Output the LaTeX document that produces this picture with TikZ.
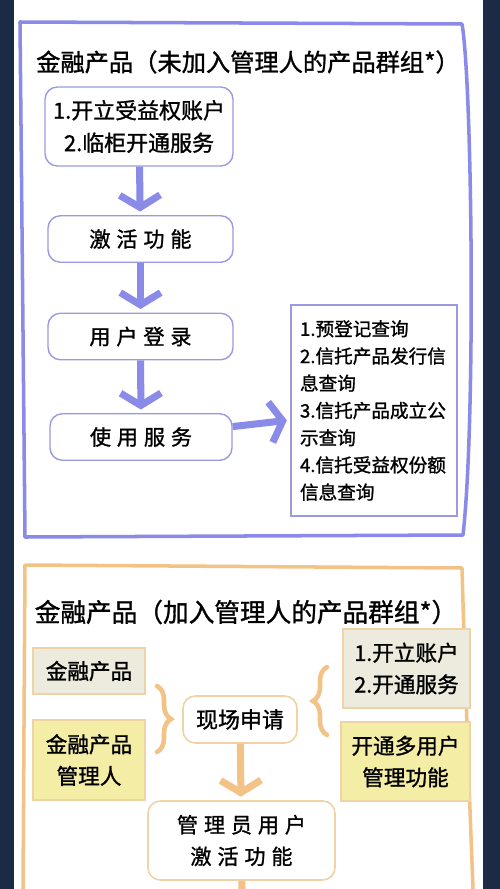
\documentclass[tikz,border=0pt]{standalone}
\usepackage{fontspec}
\setmainfont{Noto Sans CJK SC}[FakeBold=1.2]
\newfontfamily\widefont[LetterSpace=28,FakeBold=1.2]{Noto Sans CJK SC}
\usepackage{xcolor}
\usetikzlibrary{arrows.meta}
\usetikzlibrary{decorations.pathreplacing}
\definecolor{navy}{HTML}{1C2B45}
\definecolor{bline}{HTML}{8A8AE8}
\definecolor{bedge}{HTML}{9A9AE2}
\definecolor{oline}{HTML}{F2C286}
\definecolor{oedge}{HTML}{EFD2A6}
\definecolor{grayfill}{HTML}{ECEBDD}
\definecolor{yellowfill}{HTML}{F4EDA6}

\begin{document}
\begin{tikzpicture}[x=0.02cm,y=-0.02cm,
  bbox/.style={draw=bedge,line width=0.8pt,rounded corners=7pt,fill=white,
    minimum width=3.7cm,minimum height=0.93cm,align=center,
    font=\widefont\fontsize{12}{18.5}\selectfont},
  barrow/.style={bline,line width=4pt,shorten >=2pt,
    -{Straight Barb[length=7pt,width=23pt]}},
  obox/.style={draw=oedge,line width=0.9pt,rounded corners=7pt,fill=white,
    align=center,font=\widefont\fontsize{12}{18}\selectfont},
  oflat/.style={draw=oedge,line width=0.9pt,align=center,
    font=\fontsize{12.3}{18}\selectfont},
  oarrow/.style={oline,line width=4pt,shorten >=2pt,
    -{Straight Barb[length=7pt,width=23pt]}},
  obrace/.style={oline,line width=2.6pt,line cap=round,decorate,
    decoration={brace,amplitude=8pt}}]
\useasboundingbox (0,0) rectangle (500,889);
\fill[navy] (0,0) rectangle (500,889);
\fill[white] (14,0) rectangle (483,889);

% upper frame
\draw[bline,line width=2pt,line join=round] (20,22) -- (462,24)
  .. controls (472,80) and (476,420) .. (463,535) -- (25,537) -- cycle;
\node[font=\fontsize{13.8}{16}\selectfont] (titleA) at (248,62)
  {金融产品（未加入管理人的产品群组*）};

\node[bbox,minimum width=3.76cm,minimum height=1.58cm,font=\fontsize{12.5}{18.5}\selectfont]
  (start) at (139,126.5) {1.开立受益权账户\\2.临柜开通服务};
\node[bbox] (activate) at (140.5,239) {激活功能};
\node[bbox] (login) at (140.5,336.5) {用户登录};
\node[bbox,minimum width=3.64cm] (use) at (141,437) {使用服务};
\node[draw=bedge,line width=0.8pt,minimum width=3.32cm,minimum height=4.22cm,
  text width=2.96cm,align=left,inner sep=0.18cm,
  font=\fontsize{10.6}{15.5}\selectfont] (query) at (374,410.5)
  {1.预登记查询\\2.信托产品发行信\\息查询\\3.信托产品成立公\\示查询\\
   4.信托受益权份额\\信息查询};

\draw[barrow] (start) -- (activate);
\draw[barrow] (activate) -- (login);
\draw[barrow] (login) -- (use);
\draw[barrow] (use) -- (query);

% lower frame
\draw[oline,line width=2pt,line join=round] (23,889) -- (25,565) -- (462,568)
  .. controls (464,640) and (468,760) .. (473,889);
\node[font=\fontsize{14.6}{17}\selectfont] (titleB) at (246,612)
  {金融产品（加入管理人的产品群组*）};

\node[oflat,fill=grayfill,minimum width=2.24cm,minimum height=0.92cm]
  (product) at (89,671) {金融产品};
\node[oflat,fill=yellowfill,minimum width=2.24cm,minimum height=1.6cm]
  (manager) at (89,760) {金融产品\\管理人};
\node[obox,minimum width=2.28cm,minimum height=0.94cm,
  font=\fontsize{12.5}{18}\selectfont] (apply) at (240,719.5) {现场申请};
\node[obox,minimum width=3.74cm,minimum height=1.58cm] (admin) at (241.5,840.5)
  {管理员用户\\激活功能};
\node[oflat,fill=grayfill,minimum width=2.54cm,minimum height=1.58cm]
  (account) at (406.5,668.5) {1.开立账户\\2.开通服务};
\node[oflat,fill=yellowfill,minimum width=2.58cm,minimum height=1.58cm]
  (multi) at (405.5,761.5) {开通多用户\\管理功能};

\draw[obrace] (157,686) -- (157,752);
\draw[obrace] (327,735) -- (327,667);

\coordinate (exit) at (242,889);
\draw[oarrow] (apply) -- (admin);
\draw[oline,line width=4pt] (admin) -- (exit);
\end{tikzpicture}
\end{document}
